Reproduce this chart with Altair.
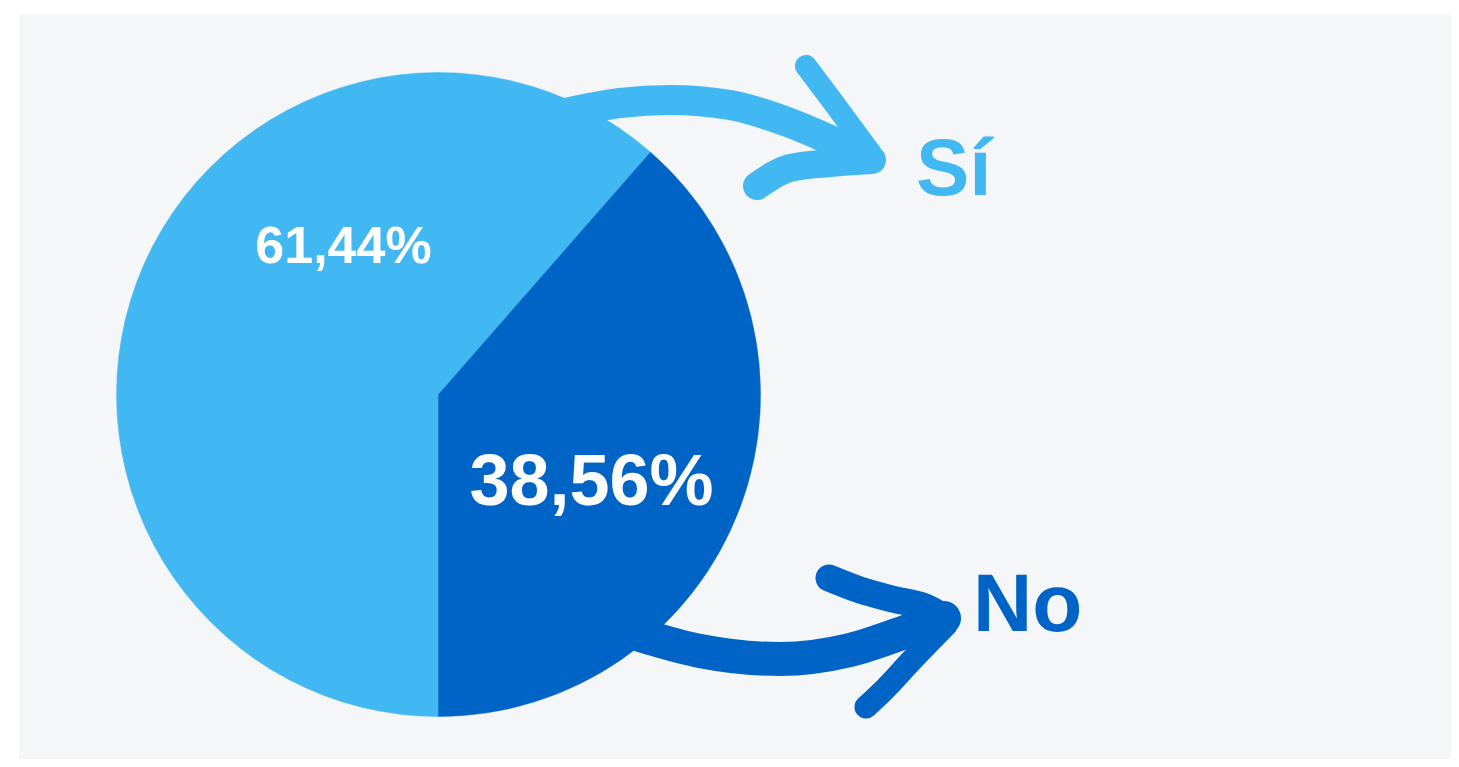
import math
import altair as alt
import pandas as pd

# ---- data ----
categories = ["Sí", "No"]
values = [61.44, 38.56]
value_labels = ["61,44%", "38,56%"]
colors = ["#42b8f2", "#0063c6"]

# ---- layout (pixels, page coordinates) ----
ORIGIN = (19, 14)          # top-left of the grey panel on the page
W, H = 1432, 745           # plot area size
CENTER = (438.5, 394.5)    # pie centre on the page
RADIUS = 322

# label placement (page coords): x, baseline y, font size, align, colour
label_layout = [
    (343.5, 263, 52, "center", "white"),
    (591.5, 505, 72, "center", "white"),
    (916, 195, 80, "left", colors[0]),
    (973, 631, 82, "left", colors[1]),
]

# decorative hand-drawn arrows (page coords, x ascending): (width, colour, points)
arrow_paths = [
    (30, colors[0], [(566, 113), (620, 103), (670, 100), (730, 105), (790, 123), (835, 142), (866, 156)]),
    (22, colors[0], [(806, 66), (836, 106), (872, 155)]),
    (28, colors[0], [(757, 186), (790, 168), (830, 163), (872, 160)]),
    (34, colors[1], [(640, 635), (700, 651), (780, 659), (850, 650), (905, 632), (944, 618)]),
    (27, colors[1], [(829, 578), (860, 590), (892, 599), (925, 607), (947, 619)]),
    (23, colors[1], [(866, 707), (882, 692), (912, 660), (946, 625)]),
]

# ---- tables ----
pie_df = pd.DataFrame({"cat": categories, "value": values, "ord": [1, 0]})

lab_rows = []
for t, (x, y, s, a, c) in zip(value_labels + categories, label_layout):
    lab_rows.append({"text": t, "x": x - ORIGIN[0], "y": y - ORIGIN[1], "size": s, "align": a, "color": c})
lab_df = pd.DataFrame(lab_rows)

xs = alt.Scale(domain=[0, W], nice=False, zero=False)
ys = alt.Scale(domain=[0, H], nice=False, zero=False, reverse=True)

# No slice ends at 6 o'clock, Sí fills the rest
start = 2 * math.pi * (0.5 - values[1] / 100)
cscale = alt.Scale(domain=categories, range=colors)

pie = alt.Chart(pie_df).mark_arc(radius=RADIUS, strokeWidth=0.5).encode(
    theta=alt.Theta("value:Q", stack=True, scale=alt.Scale(range=[start, start + 2 * math.pi])),
    color=alt.Color("cat:N", scale=cscale, legend=None),
    stroke=alt.Stroke("cat:N", scale=cscale, legend=None),
    order=alt.Order("ord:Q"),
    x=alt.value(CENTER[0] - ORIGIN[0]),
    y=alt.value(CENTER[1] - ORIGIN[1]),
)

arrow_layers = []
for w, c, pts in arrow_paths:
    df = pd.DataFrame({
        "i": list(range(len(pts))),
        "x": [p[0] - ORIGIN[0] for p in pts],
        "y": [p[1] - ORIGIN[1] for p in pts],
    })
    arrow_layers.append(
        alt.Chart(df).mark_line(
            strokeCap="round", strokeJoin="round", interpolate="monotone",
        ).encode(
            x=alt.X("x:Q", scale=xs, axis=None),
            y=alt.Y("y:Q", scale=ys, axis=None),
            order="i:Q",
            strokeWidth=alt.value(w),
            stroke=alt.value(c),
        )
    )

def text_layer(align):
    return alt.Chart(lab_df[lab_df["align"] == align]).mark_text(
        font="Liberation Sans", fontWeight="bold", align=align, baseline="alphabetic"
    ).encode(
        x=alt.X("x:Q", scale=xs, axis=None),
        y=alt.Y("y:Q", scale=ys, axis=None),
        text="text:N",
        size=alt.Size("size:Q", scale=None),
        color=alt.Color("color:N", scale=None),
    )

chart = alt.layer(pie, *arrow_layers, text_layer("center"), text_layer("left")).properties(
    width=W, height=H,
    padding={"left": ORIGIN[0] - 8, "top": ORIGIN[1] - 8, "right": 0, "bottom": 0},
    background="white",
    autosize=alt.AutoSizeParams(type="pad"),
).configure_view(fill="#f4f6f8", stroke=None).resolve_scale(color="independent")

chart.save("out.html", embed_options={"renderer": "svg", "actions": False})
